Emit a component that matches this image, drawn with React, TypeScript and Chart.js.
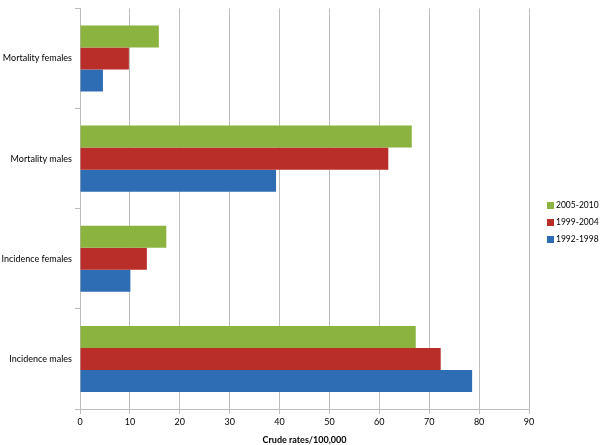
import React, { useEffect, useRef } from "react";
import { Chart, registerables } from "chart.js";

Chart.register(...registerables);

const categories = ["Mortality females", "Mortality males", "Incidence females", "Incidence males"];
const series2005 = [15.8, 66.5, 17.3, 67.3];
const series1999 = [9.8, 61.8, 13.4, 72.3];
const series1992 = [4.6, 39.3, 10.1, 78.6];
const seriesLabels = ["2005-2010", "1999-2004", "1992-1998"];
const seriesColors = ["#8AB33F", "#BA2E29", "#2E6DB4"];
const xTicks = [0, 10, 20, 30, 40, 50, 60, 70, 80, 90];
const axisTitle = "Crude rates/100,000";

const FONT = "Lato, 'Open Sans', sans-serif";
const GRID = "#BDBDBD";

const sideLegend = {
  id: "sideLegend",
  afterDraw(chart: any) {
    const { ctx, chartArea } = chart;
    const items = chart.data.datasets;
    const gap = 17;
    const midY = chart.height / 2;
    const x0 = chartArea.right + 18;
    ctx.save();
    ctx.font = `8.5px ${FONT}`;
    ctx.textBaseline = "middle";
    ctx.textAlign = "left";
    items.forEach((ds: any, i: number) => {
      const y = midY + (i - (items.length - 1) / 2) * gap;
      ctx.fillStyle = ds.backgroundColor;
      ctx.fillRect(x0, y - 3.5, 7, 7);
      ctx.fillStyle = "#000";
      ctx.fillText(ds.label, x0 + 9, y);
    });
    ctx.restore();
  },
};

export default function App() {
  const ref = useRef<HTMLCanvasElement | null>(null);
  useEffect(() => {
    if (!ref.current) return;
    const chart = new Chart(ref.current, {
      type: "bar",
      data: {
        labels: categories,
        datasets: [
          { label: seriesLabels[0], data: series2005, backgroundColor: seriesColors[0] },
          { label: seriesLabels[1], data: series1999, backgroundColor: seriesColors[1] },
          { label: seriesLabels[2], data: series1992, backgroundColor: seriesColors[2] },
        ],
      },
      plugins: [sideLegend],
      options: {
        indexAxis: "y",
        animation: false,
        responsive: true,
        maintainAspectRatio: false,
        layout: { padding: { top: 4, right: 71, left: 0, bottom: 0 } },
        datasets: { bar: { categoryPercentage: 0.66, barPercentage: 1.0 } },
        plugins: {
          tooltip: { enabled: false },
          legend: { display: false },
        },
        scales: {
          x: {
            min: 0,
            max: 90,
            afterFit: (s: any) => { s.height = 36; },
            afterBuildTicks: (s: any) => { s.ticks = xTicks.map((v) => ({ value: v })); },
            ticks: { color: "#000", font: { family: FONT, size: 9 }, padding: 3 },
            grid: { color: GRID, lineWidth: 1, tickLength: 5, drawTicks: true },
            border: { display: true, color: GRID },
            title: {
              display: true,
              text: axisTitle,
              color: "#000",
              font: { family: FONT, size: 9, weight: "bold" },
              padding: { top: 3, bottom: 0 },
            },
          },
          y: {
            afterFit: (s: any) => { s.width = 80; },
            ticks: { color: "#000", font: { family: FONT, size: 9 }, padding: 3 },
            grid: { offset: true, drawOnChartArea: false, drawTicks: true, tickLength: 5, color: GRID },
            border: { display: true, color: GRID },
          },
        },
      },
    });
    return () => chart.destroy();
  }, []);
  return (
    <div style={{ position: "absolute", left: 0, top: 0, width: 600, height: 445, background: "#fff" }}>
      <canvas ref={ref} />
    </div>
  );
}
